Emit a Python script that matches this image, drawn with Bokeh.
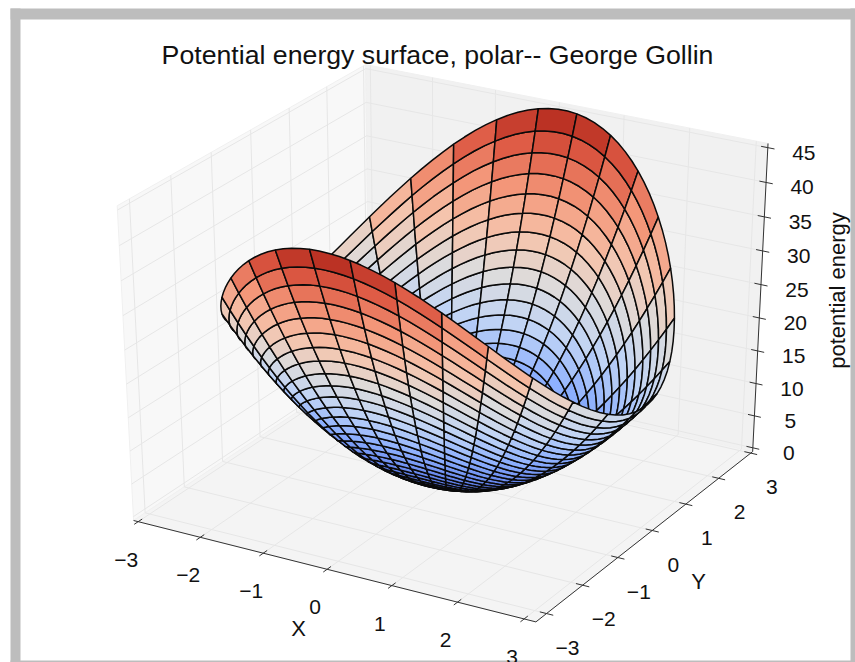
import math
from bokeh.plotting import figure
from bokeh.embed import file_html
from bokeh.resources import INLINE
from bokeh.core.properties import value

# ---- values ----
title_text = "Potential energy surface, polar-- George Gollin"
x_label = "X"
y_label = "Y"
z_label = "potential energy"
x_ticks = [-3, -2, -1, 0, 1, 2, 3]
y_ticks = [-3, -2, -1, 0, 1, 2, 3]
z_ticks = [0, 5, 10, 15, 20, 25, 30, 35, 40, 45]
x_tick_labels = ["\u22123", "\u22122", "\u22121", "0", "1", "2", "3"]
y_tick_labels = ["\u22123", "\u22122", "\u22121", "0", "1", "2", "3"]
z_tick_labels = ["0", "5", "10", "15", "20", "25", "30", "35", "40", "45"]
# limits that place the ticks and grid lines on the box
x_limits = [-3.075, 3.175]
y_limits = [-3.29, 3.06]
z_limits = [-0.6, 45.6]
# limits that place the surface in the box
surface_x_limits = [-3.086, 3.086]
surface_y_limits = [-3.086, 3.086]
surface_z_limits = [-0.6, 44.6]
# height of the surface at the rim, every 2.8125 degrees round half a turn
half_turn_rim = [18.54, 18.93, 19.44, 20.05, 20.78, 21.60, 22.51, 23.51, 24.58, 25.71, 26.89, 28.11,
                 29.36, 30.63, 31.90, 33.16, 34.40, 35.61, 36.78, 37.89, 38.93, 39.90, 40.79, 41.58,
                 42.26, 42.84, 43.31, 43.66, 43.89, 43.99, 43.97, 43.83, 43.56, 43.17, 42.66, 42.05,
                 41.32, 40.50, 39.59, 38.59, 37.52, 36.39, 35.21, 33.99, 32.74, 31.47, 30.20, 28.94,
                 27.70, 26.49, 25.32, 24.21, 23.17, 22.20, 21.31, 20.52, 19.84, 19.26, 18.79, 18.44,
                 18.21, 18.11, 18.13, 18.27]
first_angle_deg = 6.0
angle_step_deg = 2.8125
samples_per_cell = 4
# rings of the polar mesh: radius and fraction of the rim height reached there
ring_radius = [0.0, 0.1, 0.2, 0.3, 0.4, 0.5, 0.6, 0.7, 0.8, 0.9, 1.0,
               1.1, 1.2, 1.3, 1.4, 1.5, 1.6, 1.7, 1.8, 1.9, 2.0,
               2.1, 2.2, 2.3, 2.4, 2.5, 2.6, 2.7, 2.8, 2.9, 3.0]
ring_level = [0.0, 0.0011, 0.0044, 0.01, 0.0178, 0.0278, 0.04, 0.0544, 0.0711, 0.09, 0.1111,
              0.1344, 0.16, 0.1878, 0.2178, 0.25, 0.2844, 0.3211, 0.36, 0.4011, 0.4444,
              0.49, 0.5378, 0.5878, 0.64, 0.6944, 0.7511, 0.81, 0.8711, 0.9344, 1.0]
# colour scale of the surface, low to high
scale_colors = [(59, 76, 192), (98, 130, 234), (141, 176, 254), (192, 212, 245), (221, 220, 220),
                (245, 196, 172), (244, 152, 122), (222, 90, 68), (172, 32, 22)]

# ---- view: elevation 30, azimuth -60, distance 10 ----
cam_u = (0.8660254, 0.5, 0.0)
cam_v = (-0.25, 0.4330127, 0.8660254)
cam_w = (0.4330127, -0.75, 0.5)


def dot(a, b):
    return a[0] * b[0] + a[1] * b[1] + a[2] * b[2]


def norm_between(v, lim):
    return (v - lim[0]) / (lim[1] - lim[0]) - 0.5


def from_box(q):
    d = 10.0 - dot(q, cam_w)
    return dot(q, cam_u) / d, dot(q, cam_v) / d


def proj(x, y, z):
    return from_box((norm_between(x, x_limits), norm_between(y, y_limits), norm_between(z, z_limits)))


def surf_box(x, y, z):
    return (norm_between(x, surface_x_limits), norm_between(y, surface_y_limits),
            norm_between(z, surface_z_limits))


def lut(t):
    t = max(0.0, min(1.0, t)) * (len(scale_colors) - 1)
    i = min(int(t), len(scale_colors) - 2)
    f = t - i
    a, b = scale_colors[i], scale_colors[i + 1]
    return "#%02x%02x%02x" % tuple(int(round(a[k] + (b[k] - a[k]) * f)) for k in range(3))


W, H = 855, 662
SCALE_X, ORIGIN_X = 4644.0, 447.4
SCALE_Y, ORIGIN_Y = 3594.0, 333.2
X_RANGE = (-ORIGIN_X / SCALE_X, (W - ORIGIN_X) / SCALE_X)
Y_RANGE = ((ORIGIN_Y - H) / SCALE_Y, ORIGIN_Y / SCALE_Y)
p = figure(width=W, height=H, output_backend="svg", toolbar_location=None,
           x_range=X_RANGE, y_range=Y_RANGE, x_axis_type=None, y_axis_type=None,
           min_border=0, outline_line_color=None, background_fill_color="white",
           border_fill_color="white")
p.grid.visible = False


def px(sx):
    return (sx - ORIGIN_X) / SCALE_X


def py(sy):
    return (ORIGIN_Y - sy) / SCALE_Y


# page frame
frame_boxes = [(10, 20, 8, 662), (10, 855, 8, 19), (850, 855, 8, 662), (10, 855, 660, 662)]
p.quad(left=[px(b[0]) for b in frame_boxes], right=[px(b[1]) for b in frame_boxes],
       top=[py(b[2]) for b in frame_boxes], bottom=[py(b[3]) for b in frame_boxes],
       fill_color="#bdbdbd", line_color=None)

x0, x1 = x_limits
y0, y1 = y_limits
z0, z1 = z_limits


def poly(points, color):
    pts = [proj(*q) for q in points]
    p.patch([a for a, _ in pts], [b for _, b in pts], fill_color=color, line_color="#f0f0f0", line_width=1)


poly([(x0, y0, z0), (x0, y1, z0), (x0, y1, z1), (x0, y0, z1)], "#f8f8f8")
poly([(x0, y1, z0), (x1, y1, z0), (x1, y1, z1), (x0, y1, z1)], "#f1f1f1")
poly([(x0, y0, z0), (x1, y0, z0), (x1, y1, z0), (x0, y1, z0)], "#f4f4f4")

# grid lines on the panes
gx, gy = [], []


def add_line(a, b):
    pa, pb = proj(*a), proj(*b)
    gx.append([pa[0], pb[0]])
    gy.append([pa[1], pb[1]])


for t in x_ticks:
    add_line((t, y0, z0), (t, y1, z0))
    add_line((t, y1, z0), (t, y1, z1))
for t in y_ticks:
    add_line((x0, t, z0), (x1, t, z0))
    add_line((x0, t, z0), (x0, t, z1))
for t in z_ticks:
    add_line((x0, y0, t), (x0, y1, t))
    add_line((x0, y1, t), (x1, y1, t))
p.multi_line(gx, gy, line_color="#e6e6e6", line_width=1)

# axis lines and ticks
ax_x, ax_y = [], []


def add_axis(a, b):
    pa, pb = proj(*a), proj(*b)
    ax_x.append([pa[0], pb[0]])
    ax_y.append([pa[1], pb[1]])


add_axis((x0, y0, z0), (x1, y0, z0))
add_axis((x1, y0, z0), (x1, y1, z0))
add_axis((x1, y1, z0), (x1, y1, z1))
for t in x_ticks:
    add_axis((t, y0 - 0.1, z0), (t, y0 + 0.1, z0))
for t in y_ticks:
    add_axis((x1 - 0.1, t, z0), (x1 + 0.1, t, z0))
for t in z_ticks:
    add_axis((x1 - 0.1, y1, t), (x1 + 0.1, y1, t))
p.multi_line(ax_x, ax_y, line_color="#333333", line_width=1)

# surface, painted from far to near
fine_rim = half_turn_rim + half_turn_rim
n_fine = len(fine_rim)
zmax = max(fine_rim)


def node(i, m):
    a = math.radians(first_angle_deg + angle_step_deg * m)
    r = ring_radius[i]
    return r * math.cos(a), r * math.sin(a), fine_rim[m % n_fine] * ring_level[i]


faces = []
for i in range(len(ring_radius) - 1):
    for j in range(0, n_fine, samples_per_cell):
        outer = [node(i + 1, j + s) for s in range(samples_per_cell + 1)]
        inner = [node(i, j + samples_per_cell - s) for s in range(samples_per_cell + 1)]
        pts = outer + inner
        corners = [outer[0], outer[-1], inner[0], inner[-1]]
        dist = sum(10.0 - dot(surf_box(*q), cam_w) for q in corners) / 4
        zav = sum(q[2] for q in corners) / 4
        faces.append((dist, zav, pts))
faces.sort(key=lambda f: -f[0])
fx, fy, fc = [], [], []
for dist, zav, pts in faces:
    pr = [from_box(surf_box(*q)) for q in pts]
    fx.append([a for a, _ in pr])
    fy.append([b for _, b in pr])
    fc.append(lut(zav / zmax))
p.patches(fx, fy, fill_color=fc, line_color="#0a0a0a", line_width=1.5)

FONT = value("Liberation Sans")


def tick_text(labels, points, dx, dy):
    pr = [proj(*q) for q in points]
    p.text([a for a, _ in pr], [b for _, b in pr], text=labels, x_offset=dx, y_offset=dy,
           text_font=FONT, text_font_size="21px", text_color="#111111",
           text_align="center", text_baseline="middle")


tick_text(x_tick_labels, [(t, y0, z0) for t in x_ticks], -12, 38)
tick_text(y_tick_labels, [(x1, t, z0) for t in y_ticks], 21, 34)
tick_text(z_tick_labels, [(x1, y1, t) for t in z_ticks], 36, 5)


def free_text(text, sx, sy, size, angle=0.0):
    p.text([px(sx)], [py(sy)], text=[text], text_font=FONT, text_font_size=size, angle=angle,
           text_color="#111111", text_align="center", text_baseline="middle")


free_text(title_text, 437, 54, "26.7px")
free_text(x_label, 298, 628, "22px")
free_text(y_label, 698, 581, "22px")
free_text(z_label, 837, 290, "22px", math.pi / 2)

open("out.html", "w").write(file_html(p, INLINE))
